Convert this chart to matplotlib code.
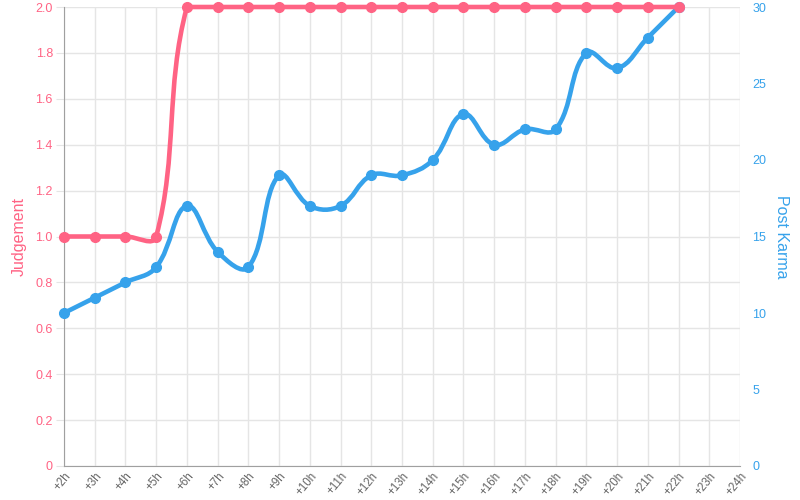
import numpy as np
import matplotlib.pyplot as plt
from matplotlib.path import Path
from matplotlib.patches import PathPatch

plt.rcParams['font.family'] = ['Liberation Sans', 'DejaVu Sans']

hours = ["+%dh" % h for h in range(2, 25)]
judgement = [1.0, 1.0, 1.0, 1.0, 2.0, 2.0, 2.0, 2.0, 2.0, 2.0, 2.0,
             2.0, 2.0, 2.0, 2.0, 2.0, 2.0, 2.0, 2.0, 2.0, 2.0]
karma = [10, 11, 12, 13, 17, 14, 13, 19, 17, 17, 19,
         19, 20, 23, 21, 22, 22, 27, 26, 28, 30]

pink = "#ff6384"
blue = "#36a2eb"
grey = "#666666"


def spline_path(ax, xs, ys, tension=0.4):
    # chart.js style cubic spline, computed in pixel space
    pts = ax.transData.transform(np.column_stack([xs, ys]))
    x0, y0, x1, y1 = ax.bbox.extents
    n = len(pts)
    prev_cp = []
    next_cp = []
    for i in range(n):
        p = pts[max(i - 1, 0)]
        c = pts[i]
        nx = pts[min(i + 1, n - 1)]
        d01 = np.hypot(*(c - p))
        d12 = np.hypot(*(nx - c))
        tot = d01 + d12
        s01 = d01 / tot if tot else 0
        s12 = d12 / tot if tot else 0
        pc = c - tension * s01 * (nx - p)
        nc = c + tension * s12 * (nx - p)
        pc = np.clip(pc, [x0, y0], [x1, y1])
        nc = np.clip(nc, [x0, y0], [x1, y1])
        prev_cp.append(pc)
        next_cp.append(nc)
    verts = [pts[0]]
    codes = [Path.MOVETO]
    for i in range(n - 1):
        verts += [next_cp[i], prev_cp[i + 1], pts[i + 1]]
        codes += [Path.CURVE4] * 3
    verts = ax.transData.inverted().transform(np.array(verts))
    return Path(verts, codes)


fig = plt.figure(figsize=(8, 5), dpi=100)
ax = fig.add_axes([64 / 800, 34 / 500, 676 / 800, 459 / 500])
ax2 = ax.twinx()

x = np.arange(len(hours))
xd = np.arange(len(karma))

ax.set_xlim(0, len(hours) - 1)
ax.set_ylim(0, 2)
ax2.set_ylim(0, 30)

ax.set_yticks(np.arange(0, 2.01, 0.2))
ax.set_yticklabels(["0"] + ["%.1f" % v for v in np.arange(0.2, 2.01, 0.2)])
ax2.set_yticks(range(0, 31, 5))
ax.set_xticks(x)
ax.set_xticklabels(hours, rotation=50, ha="right", va="top",
                   rotation_mode="anchor")

ax.grid(True, color="#e5e5e5", linewidth=1)
ax.set_axisbelow(True)

for s in ["top", "right"]:
    ax.spines[s].set_visible(False)
for s in ["top", "left", "bottom", "right"]:
    ax2.spines[s].set_visible(False)
ax.spines["left"].set_color("#a0a0a0")
ax.spines["bottom"].set_color("#a0a0a0")

ax.tick_params(axis="y", colors="#e5e5e5", labelcolor=pink, length=6,
               labelsize=9, pad=2)
ax.tick_params(axis="x", colors="#e5e5e5", labelcolor=grey, length=0,
               labelsize=8.3, pad=3)
ax2.tick_params(axis="y", labelcolor=blue, length=0, labelsize=9, pad=9)

ax.set_ylabel("Judgement", color=pink, fontsize=11.5, labelpad=6)
ax2.set_ylabel("Post Karma", color=blue, fontsize=11.5, rotation=270,
               labelpad=16)

# blue line (karma)
kp = spline_path(ax2, xd, karma)
ax2.add_patch(PathPatch(kp, fill=False, edgecolor=blue, lw=3.3,
                        capstyle="round", joinstyle="round", zorder=2,
                        clip_on=False))
ax2.plot(xd, karma, "o", color=blue, ms=7, zorder=2.5, clip_on=False)

# pink line (judgement), drawn on top
jp = spline_path(ax, xd, judgement)
ax2.add_patch(PathPatch(jp, fill=False, edgecolor=pink, lw=3.3,
                        capstyle="round", joinstyle="round", zorder=3,
                        clip_on=False, transform=ax.transData))
ax2.plot(xd, judgement, "o", color=pink, ms=7, zorder=3.5, clip_on=False,
         transform=ax.transData)

ax2.set_ylim(0, 30)
ax.set_xlim(0, len(hours) - 1)

fig.savefig("out.png", dpi=100)
